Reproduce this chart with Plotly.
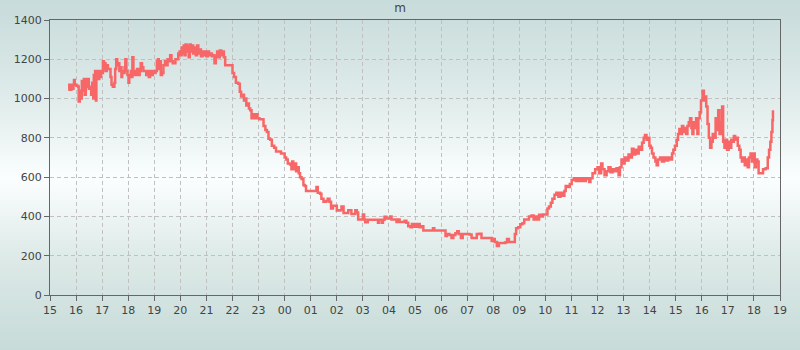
import plotly.graph_objects as go
import pandas as pd

# hours after 15:00 on day 1
hours = [
    0.70, 0.74, 0.78, 0.82, 0.86, 0.90, 0.92, 0.95, 1.01, 1.08, 1.10, 1.14, 1.18, 1.22, 1.26, 1.30, 1.33,
    1.37, 1.41, 1.45, 1.49, 1.54, 1.58, 1.62, 1.66, 1.68, 1.71, 1.73, 1.76, 1.78, 1.81, 1.85, 1.89, 1.93,
    1.96, 2.00, 2.03, 2.07, 2.09, 2.13, 2.18, 2.22, 2.27, 2.32, 2.36, 2.41, 2.47, 2.50, 2.54, 2.58, 2.62,
    2.66, 2.70, 2.74, 2.77, 2.81, 2.86, 2.89, 2.93, 2.97, 3.01, 3.04, 3.10, 3.13, 3.16, 3.20, 3.25, 3.29,
    3.34, 3.39, 3.44, 3.48, 3.53, 3.58, 3.63, 3.69, 3.74, 3.79, 3.84, 3.89, 3.94, 3.99, 4.05, 4.10, 4.14,
    4.17, 4.21, 4.25, 4.30, 4.35, 4.41, 4.46, 4.51, 4.56, 4.61, 4.66, 4.71, 4.76, 4.81, 4.87, 4.92, 4.97,
    5.01, 5.05, 5.09, 5.13, 5.16, 5.20, 5.24, 5.28, 5.32, 5.36, 5.40, 5.43, 5.49, 5.54, 5.59, 5.64, 5.69,
    5.74, 5.79, 5.85, 5.90, 5.95, 6.00, 6.05, 6.10, 6.15, 6.21, 6.26, 6.31, 6.36, 6.41, 6.46, 6.51, 6.57,
    6.62, 6.67, 6.72, 6.85, 6.98, 7.00, 7.06, 7.13, 7.22, 7.28, 7.33, 7.38, 7.44, 7.49, 7.53, 7.58, 7.63,
    7.68, 7.73, 7.78, 7.85, 7.90, 7.96, 8.03, 8.13, 8.19, 8.26, 8.32, 8.38, 8.45, 8.51, 8.60, 8.67, 8.79,
    8.86, 8.92, 9.00, 9.06, 9.12, 9.21, 9.26, 9.29, 9.33, 9.38, 9.44, 9.49, 9.54, 9.59, 9.65, 9.72, 9.77,
    9.82, 9.95, 10.08, 10.18, 10.22, 10.27, 10.36, 10.41, 10.49, 10.59, 10.65, 10.72, 10.78, 10.85, 10.95,
    11.00, 11.10, 11.18, 11.26, 11.36, 11.44, 11.51, 11.56, 11.65, 11.71, 11.77, 11.82, 11.94, 12.00,
    12.05, 12.09, 12.19, 12.32, 12.54, 12.58, 12.62, 12.69, 12.73, 12.77, 12.83, 12.90, 13.00, 13.05,
    13.10, 13.26, 13.29, 13.35, 13.41, 13.54, 13.60, 13.67, 13.74, 13.83, 13.88, 13.94, 13.99, 14.05,
    14.12, 14.18, 14.26, 14.32, 14.50, 14.67, 14.69, 14.74, 14.95, 15.13, 15.17, 15.22, 15.32, 15.40,
    15.47, 15.55, 15.62, 15.68, 15.76, 15.83, 15.96, 16.09, 16.17, 16.29, 16.37, 16.47, 16.55, 16.73,
    16.88, 16.94, 17.01, 17.06, 17.14, 17.22, 17.37, 17.47, 17.53, 17.60, 17.78, 17.83, 17.88, 17.96,
    18.04, 18.12, 18.19, 18.29, 18.37, 18.47, 18.55, 18.63, 18.69, 18.76, 18.83, 18.91, 19.01, 19.08,
    19.14, 19.21, 19.27, 19.35, 19.42, 19.50, 19.58, 19.65, 19.73, 19.78, 19.86, 19.94, 20.01, 20.09,
    20.17, 20.24, 20.32, 20.40, 20.47, 20.55, 20.63, 20.68, 20.73, 20.81, 20.91, 21.00, 21.06, 21.14,
    21.19, 21.27, 21.35, 21.42, 21.50, 21.58, 21.65, 21.73, 21.81, 21.86, 21.92, 21.97, 22.04, 22.12,
    22.19, 22.27, 22.32, 22.38, 22.45, 22.51, 22.58, 22.65, 22.71, 22.77, 22.82, 22.88, 22.94, 22.99,
    23.04, 23.09, 23.15, 23.22, 23.27, 23.32, 23.40, 23.47, 23.55, 23.63, 23.71, 23.78, 23.86, 23.91,
    23.97, 24.04, 24.09, 24.14, 24.19, 24.24, 24.29, 24.35, 24.40, 24.45, 24.50, 24.55, 24.60, 24.64,
    24.68, 24.73, 24.78, 24.83, 24.87, 24.92, 24.97, 25.03, 25.08, 25.13, 25.17, 25.22, 25.27, 25.32,
    25.37, 25.42, 25.47, 25.53, 25.58, 25.63, 25.68, 25.73, 25.78, 25.82, 25.87, 25.92, 25.97, 26.03,
    26.08, 26.13, 26.18, 26.23, 26.28, 26.33, 26.38, 26.44, 26.49, 26.54, 26.60, 26.65, 26.71, 26.76,
    26.81, 26.87, 26.92, 26.97, 27.03, 27.08, 27.13, 27.18, 27.27, 27.35, 27.45, 27.53, 27.58, 27.63,
    27.67, 27.71, 27.73,
]

values = [
    1045, 1070, 1045, 1070, 1050, 1070, 1095, 1070, 1065, 1060, 985, 1040, 1000, 1090, 1040, 1100, 1020,
    1100, 1060, 1100, 1050, 1060, 1020, 1080, 1000, 1120, 1030, 1140, 990, 1120, 1140, 1100, 1140, 1110,
    1140, 1130, 1190, 1150, 1180, 1140, 1170, 1150, 1150, 1110, 1070, 1060, 1080, 1150, 1200, 1170, 1180,
    1140, 1160, 1110, 1140, 1130, 1160, 1200, 1140, 1120, 1080, 1120, 1140, 1110, 1210, 1120, 1140, 1120,
    1150, 1120, 1140, 1180, 1160, 1140, 1140, 1120, 1140, 1110, 1140, 1120, 1140, 1130, 1140, 1190, 1200,
    1150, 1190, 1120, 1130, 1170, 1190, 1170, 1200, 1190, 1220, 1190, 1180, 1180, 1200, 1200, 1230, 1240,
    1220, 1260, 1230, 1270, 1220, 1275, 1240, 1270, 1210, 1275, 1240, 1270, 1230, 1260, 1220, 1270, 1230,
    1250, 1215, 1240, 1220, 1240, 1215, 1240, 1220, 1230, 1215, 1220, 1180, 1210, 1240, 1210, 1245, 1220,
    1240, 1210, 1170, 1170, 1170, 1130, 1110, 1080, 1075, 1035, 1010, 1020, 990, 1000, 965, 975, 950,
    940, 900, 920, 900, 920, 900, 895, 895, 860, 840, 830, 795, 790, 760, 750, 730, 730,
    720, 720, 700, 690, 670, 665, 640, 680, 640, 670, 630, 650, 620, 600, 590, 560, 555,
    530, 530, 530, 530, 550, 520, 515, 490, 475, 478, 490, 475, 440, 455, 455,
    430, 432, 450, 418, 418, 432, 432, 412, 412, 432, 420, 385, 385, 410,
    385, 370, 383, 383, 383, 368, 383, 383, 368, 383, 398, 390, 390, 400,
    385, 385, 372, 385, 372, 372, 378, 368, 350, 345, 362, 348, 362, 348,
    362, 345, 350, 328, 328, 328, 340, 328, 328, 328, 300, 310, 305, 290,
    305, 315, 325, 310, 290, 310, 310, 308, 290, 290, 310, 312, 290, 290,
    290, 275, 285, 270, 250, 265, 265, 268, 285, 270, 270, 310, 340, 345,
    360, 365, 385, 385, 400, 405, 385, 400, 385, 408, 400, 410, 410, 440,
    450, 470, 490, 510, 520, 500, 520, 505, 530, 555, 550, 565, 585, 595,
    580, 595, 580, 595, 580, 595, 590, 575, 595, 620, 640, 650, 620, 670,
    640, 610, 630, 650, 625, 640, 630, 645, 610, 650, 690, 670, 700, 685,
    715, 700, 745, 715, 740, 720, 755, 740, 775, 800, 815, 790, 800, 760,
    750, 720, 700, 680, 660, 690, 700, 680, 700, 685, 700, 690, 720, 740,
    760, 790, 820, 845, 820, 860, 830, 850, 820, 860, 880, 900, 850, 820,
    880, 850, 900, 820, 900, 930, 990, 1040, 990, 1010, 960, 870, 800, 750,
    780, 820, 800, 900, 840, 940, 820, 880, 960, 780, 750, 790, 740, 780,
    750, 790, 780, 810, 790, 800, 760, 740, 700, 680, 700, 660, 690, 650,
    700, 720, 680, 720, 650, 690, 680, 620, 620, 640, 645, 700, 740, 780,
    830, 890, 940,
]

y_ticks = [0, 200, 400, 600, 800, 1000, 1200, 1400]

start = pd.Timestamp("2024-01-01 15:00")
end = pd.Timestamp("2024-01-02 19:00")
times = [start + pd.Timedelta(hours=h) for h in hours]

fig = go.Figure()
fig.add_trace(go.Scatter(
    x=times, y=values, mode="lines",
    line=dict(color="#f76767", width=2.5, shape="hv"),
    hoverinfo="x+y",
))

# vertical background gradient (page-wide) drawn as thin stripes
W, H = 800, 350
top_px, bot_px = 20, 295
stops = [(0, (200, 220, 219)), (20, (203, 222, 221)), (100, (224, 236, 235)),
         (180, (251, 254, 254)), (260, (220, 233, 231)), (350, (199, 219, 216))]

def col_at(py):
    for (p0, c0), (p1, c1) in zip(stops[:-1], stops[1:]):
        if p0 <= py <= p1:
            t = (py - p0) / (p1 - p0)
            return "rgb(%d,%d,%d)" % tuple(round(a + (b - a) * t) for a, b in zip(c0, c1))
    return "rgb(%d,%d,%d)" % stops[-1][1]

shapes = []
step = 4
for py in range(0, H, step):
    y0 = (bot_px - (py + step + 0.5)) / (bot_px - top_px)
    y1 = (bot_px - py) / (bot_px - top_px)
    shapes.append(dict(type="rect", xref="paper", yref="paper",
                       x0=-0.1, x1=1.1, y0=y0, y1=y1,
                       fillcolor=col_at(py + step / 2), line=dict(width=0), layer="below"))

axis_common = dict(
    showline=True, linecolor="#666", linewidth=1.3, mirror=True,
    showgrid=True, gridcolor="#c0c0c0", griddash="4px,3px", gridwidth=1,
    ticks="outside", ticklen=5, tickcolor="#666",
    tickfont=dict(family="DejaVu Sans", size=11, color="#444"),
    zeroline=False,
)

fig.update_layout(
    width=W, height=H,
    margin=dict(l=50, r=20, t=20, b=55),
    paper_bgcolor="rgb(230,240,239)",
    plot_bgcolor="rgba(0,0,0,0)",
    shapes=shapes,
    showlegend=False,
    title=dict(text="m", x=0.5, xanchor="center", y=1 - 8 / H, yanchor="middle",
               font=dict(family="DejaVu Sans", size=12, color="#444")),
    xaxis=dict(range=[start, end], type="date", dtick=3600000, tick0=start,
               tickformat="%H", **axis_common),
    yaxis=dict(range=[0, 1400], tickvals=y_ticks, **axis_common),
)

fig.write_html("out.html")
